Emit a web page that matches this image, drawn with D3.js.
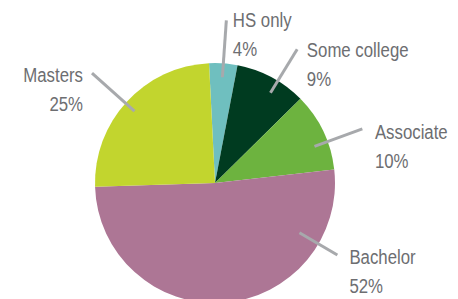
<!DOCTYPE html>
<html>
<head>
<meta charset="utf-8">
<script src="https://cdn.jsdelivr.net/npm/d3@7"></script>
<style>
  html, body { margin: 0; padding: 0; background: #fff; }
  #chart { width: 458px; height: 299px; overflow: hidden; }
  text { font-family: "Liberation Sans", Arial, sans-serif; }
</style>
</head>
<body>
<div id="chart"></div>
<script>
// degree breakdown, clockwise from the top
const categories = ["HS only", "Some college", "Associate", "Bachelor", "Masters"];
const shares = [3.8, 9.6, 10.6, 51.3, 24.7];
const pctLabels = ["4%", "9%", "10%", "52%", "25%"];
const colors = ["#6fbfbf", "#003b20", "#6db33f", "#ad7695", "#c2d52e"];

// where along each slice the leader line sits (fraction of the slice) and its radii
const leaderFrac = [0.5, 0.6, 0.64, 0.2, 0.49];
const leaderInner = [106, 106, 106, 98, 108];
const leaderOuter = [163, 157, 157, 142, 165];

const width = 458, height = 299;
const cx = 215, cy = 183, radius = 120;

const svg = d3.select("#chart").append("svg")
    .attr("width", width)
    .attr("height", height);

const g = svg.append("g").attr("transform", `translate(${cx},${cy})`);

const start = -2.85 * Math.PI / 180;
const pie = d3.pie()
    .sort(null)
    .value(d => d)
    .startAngle(start)
    .endAngle(start + 2 * Math.PI);

const arcs = pie(shares);
const arc = d3.arc().innerRadius(0).outerRadius(radius);

g.selectAll("path.slice")
    .data(arcs)
    .enter().append("path")
    .attr("class", "slice")
    .attr("d", arc)
    .attr("fill", (d, i) => colors[i]);

// polar -> cartesian, angle measured clockwise from 12 o'clock
function pt(a, r) {
    return [r * Math.sin(a), -r * Math.cos(a)];
}

const leaders = arcs.map((d, i) => {
    const a = d.startAngle + leaderFrac[i] * (d.endAngle - d.startAngle);
    return { a: a, p0: pt(a, leaderInner[i]), p1: pt(a, leaderOuter[i]), i: i };
});

g.selectAll("line.leader")
    .data(leaders)
    .enter().append("line")
    .attr("class", "leader")
    .attr("x1", d => d.p0[0])
    .attr("y1", d => d.p0[1])
    .attr("x2", d => d.p1[0])
    .attr("y2", d => d.p1[1])
    .attr("stroke", "#a7a9ac")
    .attr("stroke-width", 3);

// narrow look: squeeze the text horizontally
const lbl = g.selectAll("text.lbl")
    .data(leaders)
    .enter().append("text")
    .attr("class", "lbl")
    .attr("fill", "#6d6e71")
    .attr("font-size", 21)
    .attr("text-anchor", d => Math.sin(d.a) < 0 ? "end" : "start")
    .attr("transform", d => {
        const s = Math.abs(Math.sin(d.a));
        const dx = Math.sin(d.a) < 0 ? -9 : 6 + 7 * s;
        return `translate(${d.p1[0] + dx},${d.p1[1] + 6 + 4 * s}) scale(0.8,1)`;
    });

lbl.append("tspan")
    .attr("x", 0)
    .attr("y", 0)
    .text(d => categories[d.i]);

lbl.append("tspan")
    .attr("x", 0)
    .attr("y", 29)
    .text(d => pctLabels[d.i]);
</script>
</body>
</html>
